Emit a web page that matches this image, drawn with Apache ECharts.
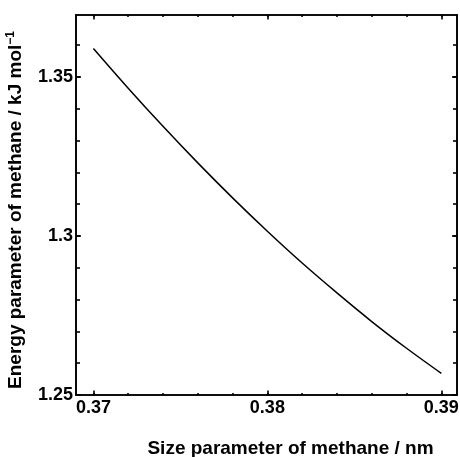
<!DOCTYPE html>
<html>
<head>
<meta charset="utf-8">
<script src="https://cdn.jsdelivr.net/npm/echarts@6/dist/echarts.min.js"></script>
<style>
    html, body { margin: 0; padding: 0; background: #fff; }
    #main { width: 460px; height: 457px; }
</style>
</head>
<body>
<div id="main"></div>
<script>
// size parameter (nm) and energy parameter (kJ/mol)
var sizeParam = [0.370, 0.372, 0.374, 0.376, 0.378, 0.380, 0.382, 0.384, 0.386, 0.388, 0.390];
var energyParam = [1.3590, 1.3465, 1.3345, 1.3230, 1.3120, 1.3015, 1.2915, 1.2821, 1.2731, 1.2647, 1.2568];

// ticks
var xMajor = [0.37, 0.38, 0.39];
var xMinor = [0.37, 0.372, 0.374, 0.376, 0.378, 0.38, 0.382, 0.384, 0.386, 0.388, 0.39];
var yMajor = [1.25, 1.3, 1.35];
var yMinor = [1.25, 1.26, 1.27, 1.28, 1.29, 1.3, 1.31, 1.32, 1.33, 1.34, 1.35, 1.36];

var xMin = 0.369, xMax = 0.3909;
var yMin = 1.25, yMax = 1.3695;

var fontFamily = 'Liberation Sans, Arial, sans-serif';

(function () {
    var chart = echarts.init(document.getElementById('main'), null, { renderer: 'canvas' });

    //坐标轴（主刻度/次刻度，上下左右）
    function xAxisDef(pos, ticks, len, withLabel) {
        return {
            type: 'value',
            position: pos,
            min: xMin,
            max: xMax,
            axisLine: { show: true, onZero: false, lineStyle: { color: '#000', width: 1.6 } },
            axisTick: { show: true, inside: true, length: len, customValues: ticks,
                lineStyle: { color: '#000', width: 1.6 } },
            axisLabel: {
                show: withLabel,
                customValues: xMajor,
                margin: 4,
                color: '#000',
                fontSize: 18,
                fontWeight: 'bold',
                fontFamily: fontFamily,
                formatter: function (v) { return (+v).toFixed(2); }
            },
            splitLine: { show: false }
        };
    }
    function yAxisDef(pos, ticks, len, withLabel) {
        return {
            type: 'value',
            position: pos,
            min: yMin,
            max: yMax,
            axisLine: { show: true, onZero: false, lineStyle: { color: '#000', width: 1.6 } },
            axisTick: { show: true, inside: true, length: len, customValues: ticks,
                lineStyle: { color: '#000', width: 1.6 } },
            axisLabel: {
                show: withLabel,
                customValues: yMajor,
                margin: 3,
                color: '#000',
                fontSize: 18,
                fontWeight: 'bold',
                fontFamily: fontFamily,
                formatter: function (v) { return String(+(+v).toFixed(2)); }
            },
            splitLine: { show: false }
        };
    }

    var xa = [
        xAxisDef('bottom', xMajor, 4.5, true),
        xAxisDef('bottom', xMinor, 2, false),
        xAxisDef('top', xMajor, 4.5, false),
        xAxisDef('top', xMinor, 2, false)
    ];
    xa[0].name = 'Size parameter of methane / nm';
    xa[0].nameLocation = 'middle';
    xa[0].nameGap = 44;
    xa[0].nameTextStyle = {
        color: '#000', fontSize: 19, fontWeight: 'bold', fontFamily: fontFamily,
        padding: [0, 0, 0, 48]
    };

    var ya = [
        yAxisDef('left', yMajor, 5, true),
        yAxisDef('left', yMinor, 4, false),
        yAxisDef('right', yMajor, 5, false),
        yAxisDef('right', yMinor, 4, false)
    ];
    ya[0].name = 'Energy parameter of methane / kJ mol{sup|\u22121}';
    ya[0].nameLocation = 'middle';
    ya[0].nameRotate = 90;
    ya[0].nameGap = 49;
    ya[0].nameTextStyle = {
        color: '#000', fontSize: 19, fontWeight: 'bold', fontFamily: fontFamily, lineHeight: 22,
        padding: [0, 10, 0, 0],
        rich: {
            sup: { fontSize: 12, fontWeight: 'bold', fontFamily: fontFamily, color: '#000',
                verticalAlign: 'top', lineHeight: 22 }
        }
    };

    var data = [];
    for (var i = 0; i < sizeParam.length; i++) {
        data.push([sizeParam[i], energyParam[i]]);
    }

    var option = {
        backgroundColor: '#fff',
        animation: false,
        grid: { left: 76, right: 3, top: 15, bottom: 62, containLabel: false, outerBoundsMode: 'none' },
        xAxis: xa,
        yAxis: ya,
        series: [{
            type: 'line',
            xAxisIndex: 0,
            yAxisIndex: 0,
            data: data,
            smooth: 0.3,
            showSymbol: false,
            lineStyle: { color: '#000', width: 1.5 }
        }]
    };
    chart.setOption(option);
})();
</script>
</body>
</html>
